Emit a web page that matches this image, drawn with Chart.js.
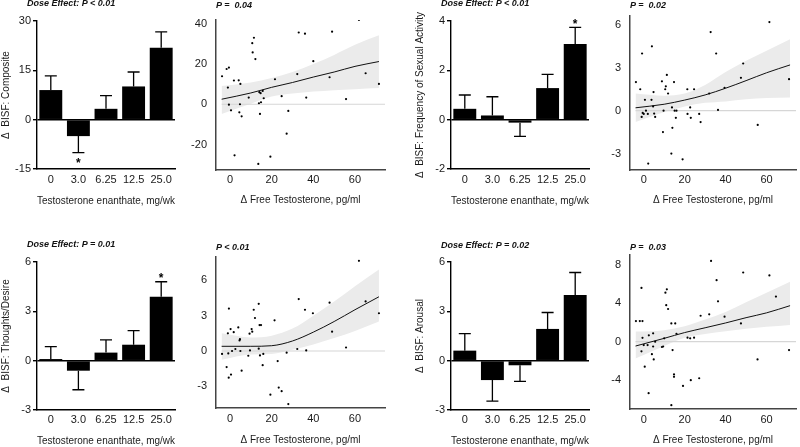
<!DOCTYPE html>
<html>
<head>
<meta charset="utf-8">
<script src="https://cdn.jsdelivr.net/npm/chart.js@4.4.0/dist/chart.umd.min.js"></script>
<style>
body { margin:0; background:#fff; width:800px; height:447px; overflow:hidden; position:relative; }
canvas { position:absolute; }
.ttl { position:absolute; font: italic bold 9px "Liberation Sans", Arial, sans-serif; line-height:9px; white-space:pre; color:#111; }
</style>
</head>
<body>
<canvas id="c1" width="200" height="215" style="left:0;top:0"></canvas>
<canvas id="c2" width="210" height="215" style="left:180px;top:0"></canvas>
<canvas id="c3" width="200" height="215" style="left:414px;top:0"></canvas>
<canvas id="c4" width="206" height="215" style="left:594px;top:0"></canvas>
<canvas id="c5" width="200" height="222" style="left:0;top:225px"></canvas>
<canvas id="c6" width="210" height="222" style="left:180px;top:225px"></canvas>
<canvas id="c7" width="200" height="222" style="left:414px;top:225px"></canvas>
<canvas id="c8" width="206" height="222" style="left:594px;top:225px"></canvas>

<div class="ttl" style="left:27px;top:-1px">Dose Effect: P &lt; 0.01</div>
<div class="ttl" style="left:216px;top:1px">P =  0.04</div>
<div class="ttl" style="left:441px;top:-1px">Dose Effect: P &lt; 0.01</div>
<div class="ttl" style="left:630px;top:1px">P =  0.02</div>
<div class="ttl" style="left:27px;top:240px">Dose Effect: P = 0.01</div>
<div class="ttl" style="left:216px;top:243px">P &lt; 0.01</div>
<div class="ttl" style="left:441px;top:241px">Dose Effect: P = 0.02</div>
<div class="ttl" style="left:630px;top:243px">P =  0.03</div>

<script>
// dose groups (bar charts)
const doses = ['0', '3.0', '6.25', '12.5', '25.0'];
const doseTitle = 'Testosterone enanthate, mg/wk';
const freeTitle = '\u0394 Free Testosterone, pg/ml';

const composite = [9.0, -5.0, 3.3, 10.1, 21.9];
const compositeSE = [4.3, 5.0, 4.0, 4.4, 4.8];
const frequency = [0.44, 0.17, -0.12, 1.28, 3.07];
const frequencySE = [0.56, 0.76, 0.56, 0.56, 0.67];
const desire = [0.10, -0.61, 0.49, 0.97, 3.88];
const desireSE = [0.75, 1.16, 0.77, 0.86, 0.92];
const arousal = [0.61, -1.18, -0.28, 1.93, 4.00];
const arousalSE = [1.04, 1.28, 0.98, 1.00, 1.36];

// scatter: change in free T vs change in score
const compX = [-3.8,-1.6,-0.5,-1.0,-0.5,0.5,1.9,4.2,5.0,4.8,4.5,5.6,2.2,9.0,10.7,11.5,10.9,12.2,13.6,14.1,14.7,15.7,16.2,13.9,14.9,14.4,19.4,21.6,24.8,27.2,28.0,32.3,33.0,36.0,36.6,40.0,47.8,49.0,55.7,61.9,65.1,71.5];
const compY = [13.9,17.5,18.2,8.3,-0.2,-3.0,11.8,11.9,10.1,0,-4,-6,-25.3,3.3,30.3,33.0,25.7,22.4,-29.6,6.0,5.5,6.6,3.0,0.5,1.0,-4.8,-26,12.4,4.0,-14.6,-3.3,15.0,35.6,35.0,3.3,21.4,13.4,36,2.6,41.9,15.4,10.1];

const freqX = [-3.8,-1.7,-0.8,-1.0,-0.5,0.0,0.6,1.1,2.0,4.0,3.8,4.6,4.8,5.1,5.6,8.9,9.4,9.7,10.5,10.8,11.3,11.9,13.5,13.8,14.0,14.8,15.1,15.7,16.0,19.0,2.2,21.3,21.4,22.7,23.0,24.6,27.1,27.8,32.0,32.7,35.4,36.3,39.5,47.5,48.6,55.7,61.4,71.0];
const freqY = [2.0,1.5,4.0,-0.44,-0.16,-0.23,0.76,0.0,-0.23,4.5,0.76,0.3,1.3,-0.2,-0.44,2.05,-1.5,0.0,1.5,1.7,2.5,1.2,-3.0,0.23,-1.2,2.0,0.0,-0.5,0.0,-3.4,-3.7,1.5,-0.23,0.23,-0.5,1.5,-0.23,-0.8,1.2,5.5,4.0,0.05,1.6,2.3,3.3,-1.0,6.2,2.2];

const desX = [-3.8,-1.6,-1.0,-0.5,-0.8,-0.6,0.3,0.5,1.0,1.8,2.6,4.0,4.6,4.8,5.0,5.6,8.8,9.4,9.6,10.4,10.7,11.4,12.0,13.8,13.8,14.2,14.9,14.4,15.7,16.0,19.4,21.4,22.9,23.4,24.8,27.2,28.0,32.3,33.0,36.0,36.6,39.8,47.8,49.0,55.7,61.9,65.1,71.5];
const desY = [-0.25,-1.36,1.5,3.6,-0.2,-2.26,1.86,-2.0,0.0,1.6,0.17,2.0,0.9,1.0,0.0,-1.67,-0.4,1.47,0.05,1.86,1.64,3.5,2.8,4.0,0.2,2.2,2.2,-0.37,-1.2,-0.25,-3.7,2.6,-0.85,-3.1,-3.4,-0.14,-4.5,0.17,4.4,3.5,0.05,3.2,4.1,1.64,0.3,7.65,4.2,3.2];

const arX = [-3.8,-1.9,-0.6,-1.1,-1.1,-0.6,0.0,0.5,1.9,2.4,2.5,4.0,4.6,4.6,4.9,5.6,8.9,9.5,10.0,10.6,11.3,11.0,11.9,13.5,13.5,14.1,14.8,14.8,15.4,16.0,19.2,21.4,22.7,23.0,24.6,27.1,27.8,32.0,32.9,35.6,36.3,39.5,47.5,48.6,55.6,61.4,64.6,71.0];
const arY = [2.15,2.15,2.15,5.6,-1.0,0.4,-0.35,-2.6,-0.35,-5.35,0.66,-1.3,0.87,-0.5,-1.84,0.0,-0.55,-0.5,0.35,5.1,5.45,3.8,3.4,1.9,-6.6,-0.87,-3.4,-3.65,1.9,0.83,-4.6,0.42,0.35,-4.0,0.42,-3.8,2.7,2.85,8.4,6.4,4.2,2.6,1.9,7.2,-1.84,6.9,4.7,-0.87];

// fitted curves and confidence bands
const fitX = [-4, 10, 20, 30, 40, 50, 60, 71.5];
const compFit = [2.5, 5.6, 8.4, 10.8, 13.5, 16.0, 18.8, 21.2];
const compLo = [-4.8, 0.3, 3.8, 5.3, 6.3, 7.0, 7.5, 8.1];
const compHi = [9.1, 10.8, 13.0, 16.0, 20.0, 24.5, 29.5, 34.2];
const freqFit = [0.2, 0.45, 0.74, 1.1, 1.57, 2.1, 2.65, 3.2];
const freqLo = [-0.8, -0.1, 0.3, 0.55, 0.65, 0.8, 0.88, 0.92];
const freqHi = [1.2, 1.05, 1.2, 1.8, 2.7, 3.5, 4.2, 5.0];
const desFit = [0.4, 0.4, 0.45, 0.85, 1.6, 2.5, 3.5, 4.6];
const desLo = [-0.73, -0.3, -0.25, 0.1, 0.55, 1.1, 1.7, 2.5];
const desHi = [1.5, 1.15, 1.3, 1.9, 3.0, 4.2, 5.5, 6.9];
const arFit = [-0.45, 0.35, 0.95, 1.45, 1.95, 2.5, 3.0, 3.75];
const arLo = [-1.75, -0.45, 0.4, 0.8, 1.1, 1.35, 1.55, 1.75];
const arHi = [1.05, 1.2, 1.6, 2.3, 3.1, 4.1, 5.1, 6.25];

const freeTicks = [0, 20, 40, 60];
const freeMin = -6.7, freeMax = 74.4;

const fontFam = '"Liberation Sans", Arial, sans-serif';
Chart.defaults.font.family = fontFam;
Chart.defaults.color = '#1a1a1a';

const errorBars = {
  id: 'errorBars',
  afterDatasetsDraw(chart, args, opts) {
    const ctx = chart.ctx, y = chart.scales.y;
    const meta = chart.getDatasetMeta(0);
    const vals = chart.data.datasets[0].data;
    ctx.save();
    ctx.strokeStyle = '#000';
    ctx.lineWidth = 1.3;
    meta.data.forEach((bar, i) => {
      const v = vals[i], dir = v < 0 ? -1 : 1;
      const p0 = y.getPixelForValue(v);
      const p1 = y.getPixelForValue(v + dir * opts.se[i]);
      ctx.beginPath();
      ctx.moveTo(bar.x, p0); ctx.lineTo(bar.x, p1);
      ctx.moveTo(bar.x - 6, p1); ctx.lineTo(bar.x + 6, p1);
      ctx.stroke();
      if (opts.stars.includes(i)) {
        ctx.fillStyle = '#000';
        ctx.font = 'bold 12px ' + fontFam;
        ctx.textAlign = 'center';
        ctx.textBaseline = 'middle';
        ctx.fillText('*', bar.x, dir > 0 ? p1 - 3 : p1 + 11);
      }
    });
    ctx.restore();
  }
};

function barPanel(id, values, se, stars, yMin, yMax, yTicks, yTitle, pad, xHeight, titlePad, tickPad) {
  new Chart(document.getElementById(id), {
    type: 'bar',
    data: { labels: doses, datasets: [{ data: values, backgroundColor: '#000', barPercentage: 0.83, categoryPercentage: 1 }] },
    options: {
      responsive: false, animation: false,
      layout: { padding: pad },
      plugins: { legend: { display: false }, tooltip: { enabled: false }, errorBars: { se: se, stars: stars } },
      scales: {
        x: {
          grid: { display: false, drawTicks: false },
          border: { display: true, color: '#000', width: 1.4 },
          ticks: { font: { size: 11 }, padding: tickPad },
          title: { display: true, text: doseTitle, font: { size: 10 }, padding: { top: 0, bottom: titlePad } },
          afterFit: s => { s.height = xHeight; }
        },
        y: {
          min: yMin, max: yMax,
          afterBuildTicks: s => { s.ticks = yTicks.map(v => ({ value: v })); },
          grid: { color: c => (c.tick && c.tick.value === 0) ? '#000' : 'rgba(0,0,0,0)', lineWidth: 1.4, tickColor: '#000', tickLength: 4 },
          border: { display: true, color: '#000', width: 1.4 },
          ticks: { font: { size: 11 }, padding: 2 },
          title: { display: true, text: yTitle, font: { size: 10 }, padding: 0 },
          afterFit: s => { s.width = 37; }
        }
      }
    },
    plugins: [errorBars]
  });
}

function scatterPanel(id, xs, ys, fit, lo, hi, yMin, yMax, yTicks, pad, xHeight, titlePad, tickPad) {
  const pts = xs.map((x, i) => ({ x: x, y: ys[i] }));
  const curve = arr => fitX.map((x, i) => ({ x: x, y: arr[i] }));
  const none = 'rgba(0,0,0,0)';
  new Chart(document.getElementById(id), {
    type: 'scatter',
    data: { datasets: [
      { data: pts, pointRadius: 1.1, pointBackgroundColor: '#000', pointBorderWidth: 0, order: 0 },
      { data: curve(fit), showLine: true, borderColor: '#111', borderWidth: 1, pointRadius: 0, cubicInterpolationMode: 'monotone', order: 1 },
      { data: [{ x: fitX[0], y: 0 }, { x: freeMax, y: 0 }], showLine: true, borderColor: '#d6d6d6', borderWidth: 1.2, pointRadius: 0, order: 2 },
      { data: curve(hi), showLine: true, borderColor: none, borderWidth: 0, pointRadius: 0, fill: '+1', backgroundColor: '#ebebeb', cubicInterpolationMode: 'monotone', order: 3 },
      { data: curve(lo), showLine: true, borderColor: none, borderWidth: 0, pointRadius: 0, cubicInterpolationMode: 'monotone', order: 4 }
    ]},
    options: {
      responsive: false, animation: false,
      layout: { padding: pad },
      plugins: { legend: { display: false }, tooltip: { enabled: false } },
      scales: {
        x: {
          type: 'linear', min: freeMin, max: freeMax,
          afterBuildTicks: s => { s.ticks = freeTicks.map(v => ({ value: v })); },
          grid: { display: false, drawTicks: false },
          border: { display: true, color: '#444', width: 1.5 },
          ticks: { font: { size: 11 }, padding: tickPad },
          title: { display: true, text: freeTitle, font: { size: 10 }, padding: { top: 0, bottom: titlePad } },
          afterFit: s => { s.height = xHeight; }
        },
        y: {
          min: yMin, max: yMax,
          afterBuildTicks: s => { s.ticks = yTicks.map(v => ({ value: v })); },
          grid: { display: false, drawTicks: false },
          border: { display: true, color: '#444', width: 1.5 },
          ticks: { font: { size: 11 }, padding: 9 },
          afterFit: s => { s.width = 36; }
        }
      }
    }
  });
}

barPanel('c1', composite, compositeSE, [1], -15, 30, [-15, 0, 15, 30], '\u0394  BISF: Composite', { top: 21, right: 25, left: 0, bottom: 0 }, 46, 8, 4);
scatterPanel('c2', compX, compY, compFit, compLo, compHi, -32.6, 41.8, [-20, 0, 20, 40], { top: 20, right: 5, left: 0, bottom: 0 }, 45, 9, 3);
barPanel('c3', frequency, frequencySE, [4], -2, 4, [-2, 0, 2, 4], '\u0394  BISF: Frequency of Sexual Activity', { top: 21, right: 25, left: 0, bottom: 0 }, 46, 8, 4);
scatterPanel('c4', freqX, freqY, freqFit, freqLo, freqHi, -4.15, 6.65, [-3, 0, 3, 6], { top: 14, right: 1, left: 0, bottom: 0 }, 45, 9, 3);
barPanel('c5', desire, desireSE, [4], -3, 6, [-3, 0, 3, 6], '\u0394  BISF: Thoughts/Desire', { top: 37, right: 25, left: 0, bottom: 0 }, 37, 0, 3);
scatterPanel('c6', desX, desY, desFit, desLo, desHi, -4.83, 7.97, [-3, 0, 3, 6], { top: 32, right: 5, left: 0, bottom: 0 }, 39, 1, 4);
barPanel('c7', arousal, arousalSE, [], -3, 6, [-3, 0, 3, 6], '\u0394  BISF: Arousal', { top: 37, right: 25, left: 0, bottom: 0 }, 37, 0, 3);
scatterPanel('c8', arX, arY, arFit, arLo, arHi, -7.0, 9.02, [-4, 0, 4, 8], { top: 30, right: 1, left: 0, bottom: 0 }, 38, 1, 4);
</script>
</body>
</html>
